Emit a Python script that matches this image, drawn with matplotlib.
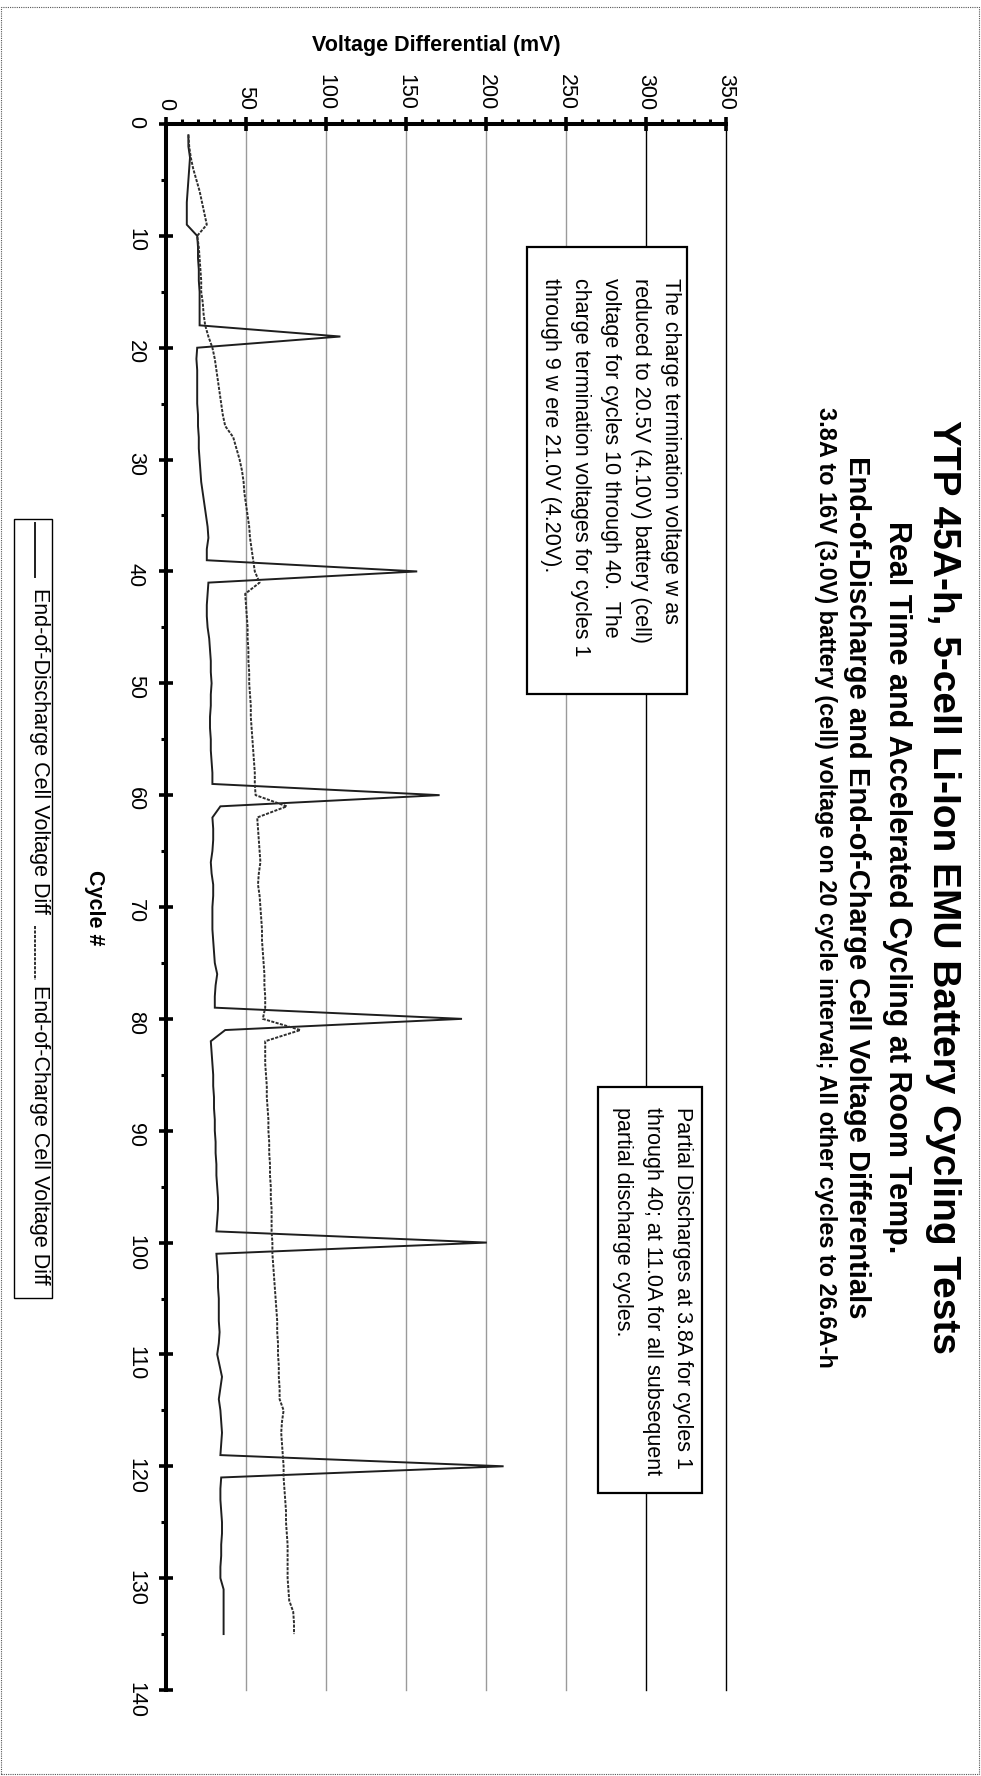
import numpy as np
import matplotlib
matplotlib.use('Agg')
import matplotlib.pyplot as plt
from matplotlib.patches import Rectangle
from matplotlib.lines import Line2D
from matplotlib.ticker import MultipleLocator

plt.rcParams['font.family'] = ['Liberation Sans', 'DejaVu Sans']

# cycle numbers and the two cell voltage differentials (mV)
cycles = np.arange(1, 136)
eod_diff = [14, 14, 15, 14.5, 14, 13.5, 13, 13, 13, 19.5,
            20, 20, 20.5, 20.5, 21, 21, 21, 21, 109, 19.5,
            19, 19.5, 19.5, 19.5, 19.5, 20, 20, 20.5, 20.5, 21,
            21.5, 22, 23, 24, 25, 26, 26.5, 25.5, 25.5, 157,
            26.5, 26, 25.5, 25.5, 26, 27, 27.5, 28, 28, 28.5,
            28, 28, 27.5, 27.5, 28, 28, 28.5, 29, 29, 171,
            34, 29, 29.5, 29.5, 29, 28, 28.5, 29.5, 29.5, 29,
            29, 29, 29.5, 30, 30.5, 32, 31, 30.5, 30.5, 185,
            37, 28, 28.5, 29, 29.5, 29.5, 30, 30, 30.5, 30.5,
            31, 31, 31.5, 31.5, 32, 32.5, 32.5, 32, 31.5, 200.5,
            31.5, 32, 32.5, 32.5, 33, 33, 33, 33.5, 33, 32,
            33.5, 35, 34, 33, 34, 34.5, 35, 34.5, 34, 211,
            34.5, 34, 34, 34.5, 35, 35, 34.5, 34.5, 34, 34,
            36, 36, 36, 36, 36]
eoc_diff = [14, 14.5, 15.5, 17, 19, 21, 22.5, 24, 25.5, 19.5,
            20.5, 21, 21.5, 22, 22, 23, 23.5, 24.5, 26.5, 29,
            30.5, 31.5, 32.5, 33.5, 34.5, 35.5, 37, 42, 44, 46,
            47.5, 48.5, 49, 50, 51, 52, 52.5, 53.5, 54.5, 55.5,
            58.5, 49.5, 50, 50.5, 51, 51, 51.5, 51.5, 52, 52,
            52.5, 53, 53, 53.5, 54, 54.5, 55, 55.5, 55.5, 56,
            75.5, 57, 57.5, 58, 58.5, 59, 58, 57.5, 58.5, 59,
            59.5, 60, 60, 60.5, 61, 61.5, 61.5, 62, 62, 60.5,
            84, 62, 62, 62, 62.5, 63, 63, 63.5, 64, 64,
            64.5, 64.5, 65, 65, 65.5, 65.5, 66, 66, 66, 66.5,
            66.5, 67, 67.5, 68, 68.5, 69, 69.5, 69.5, 70, 70,
            70.5, 70.5, 71, 71, 73.5, 72.5, 72, 72.5, 73, 73.5,
            73.5, 74, 74.5, 75, 75, 75.5, 76, 76, 76, 76,
            76.5, 77, 79.5, 80, 80]

volt_ticks = [0, 50, 100, 150, 200, 250, 300, 350]
cycle_ticks = list(range(0, 141, 10))

title_lines = ['YTP 45A-h, 5-cell Li-Ion EMU Battery Cycling Tests',
               'Real Time and Accelerated Cycling at Room Temp.',
               'End-of-Discharge and End-of-Charge Cell Voltage Differentials',
               '3.8A to 16V (3.0V) battery (cell) voltage on 20 cycle interval; '
               'All other cycles to 26.6A-h']
note_charge = ['The charge termination voltage w as',
               'reduced to 20.5V (4.10V) battery (cell)',
               'voltage for cycles 10 through 40.  The',
               'charge termination voltages for cycles 1',
               'through 9 w ere 21.0V (4.20V).']
note_discharge = ['Partial Discharges at 3.8A for cycles 1',
                  'through 40; at 11.0A for all subsequent',
                  'partial discharge cycles.']
series_names = ['End-of-Discharge Cell Voltage Diff',
                'End-of-Charge Cell Voltage Diff']

W, H = 981, 1776


def fx(px):
    return px / W


def fy(py):
    return 1 - py / H


fig = plt.figure(figsize=(W / 100, H / 100), dpi=100)
fig.patch.set_facecolor('white')

# page is turned on its side: cycles run down, voltage runs right
ax = fig.add_axes([fx(166), fy(1690), fx(726) - fx(166), fy(124) - fy(1690)])
ax.set_xlim(0, 350)
ax.set_ylim(140, 0)

for v in volt_ticks[1:]:
    ax.axvline(v, color='black' if v >= 300 else '#9a9a9a', lw=1.0, zorder=1,
               clip_on=False)

ax.plot(eod_diff, cycles, color='#1e1e1e', lw=1.4, zorder=4,
        solid_joinstyle='miter')
ax.plot(eoc_diff, cycles, color='#2e2e2e', lw=1.4, zorder=4,
        ls=(0, (1.6, 0.7)))

for side in ['right', 'bottom']:
    ax.spines[side].set_visible(False)
for side in ['left', 'top']:
    ax.spines[side].set_linewidth(2.9)
    ax.spines[side].set_zorder(5)

ax.xaxis.tick_top()
ax.set_xticks(volt_ticks)
ax.set_yticks(cycle_ticks)
ax.xaxis.set_minor_locator(MultipleLocator(10))
ax.yaxis.set_minor_locator(MultipleLocator(5))
ax.tick_params(which='major', direction='inout', length=9.5, width=2.6,
               labelsize=15.5)
ax.tick_params(which='minor', direction='out', length=3.5, width=2.2)
ax.tick_params(axis='x', which='major', pad=5.4, labelrotation=-90)
ax.tick_params(axis='y', which='major', pad=9.7, labelrotation=-90)

# note boxes
ax.add_patch(Rectangle((225.4, 11.0), 100, 40, facecolor='white',
                       edgecolor='black', lw=1.6, zorder=3))
ax.add_patch(Rectangle((270, 86.1), 64.8, 36.3, facecolor='white',
                       edgecolor='black', lw=1.6, zorder=3))

for i, line in enumerate(note_charge):
    fig.text(fx(670 - 30 * i), fy(278), line, rotation=-90, fontsize=15.5,
             ha='center', va='top', zorder=6)
for i, line in enumerate(note_discharge):
    fig.text(fx(683 - 30.5 * i), fy(1107), line, rotation=-90, fontsize=15.5,
             ha='center', va='top', zorder=6)

# titles
title_x = [943, 897, 857, 825]
title_sizes = [28, 22, 21, 16.9]
for x, line, fs in zip(title_x, title_lines, title_sizes):
    fig.text(fx(x), fy(887), line, rotation=-90, fontsize=fs,
             fontweight='bold', ha='center', va='center')

fig.text(fx(436), fy(45), 'Voltage Differential (mV)', fontsize=15.5,
         fontweight='bold', ha='center', va='center')
fig.text(fx(95), fy(908), 'Cycle #', rotation=-90, fontsize=15.5,
         fontweight='bold', ha='center', va='center')

# legend
fig.add_artist(Rectangle((fx(13.6), fy(1298)), fx(52) - fx(13.6),
                         fy(519) - fy(1298), transform=fig.transFigure,
                         fill=False, edgecolor='black', lw=1.0))
fig.add_artist(Line2D([fx(35), fx(35)], [fy(523), fy(577)],
                      transform=fig.transFigure, color='#1e1e1e', lw=1.4))
fig.add_artist(Line2D([fx(35), fx(35)], [fy(926), fy(980)],
                      transform=fig.transFigure, color='#2e2e2e', lw=1.4,
                      ls=(0, (1.6, 0.7))))
fig.text(fx(39), fy(588), series_names[0], rotation=-90, fontsize=15.5,
         ha='center', va='top')
fig.text(fx(39), fy(985), series_names[1], rotation=-90, fontsize=15.5,
         ha='center', va='top')

# dotted page outline
fig.add_artist(Rectangle((fx(1), fy(1774)), fx(979) - fx(1), fy(7) - fy(1774),
                         transform=fig.transFigure, fill=False,
                         edgecolor='#555555', lw=0.8, ls=(0, (1, 1))))

fig.savefig('out.png', dpi=100, facecolor='white')
